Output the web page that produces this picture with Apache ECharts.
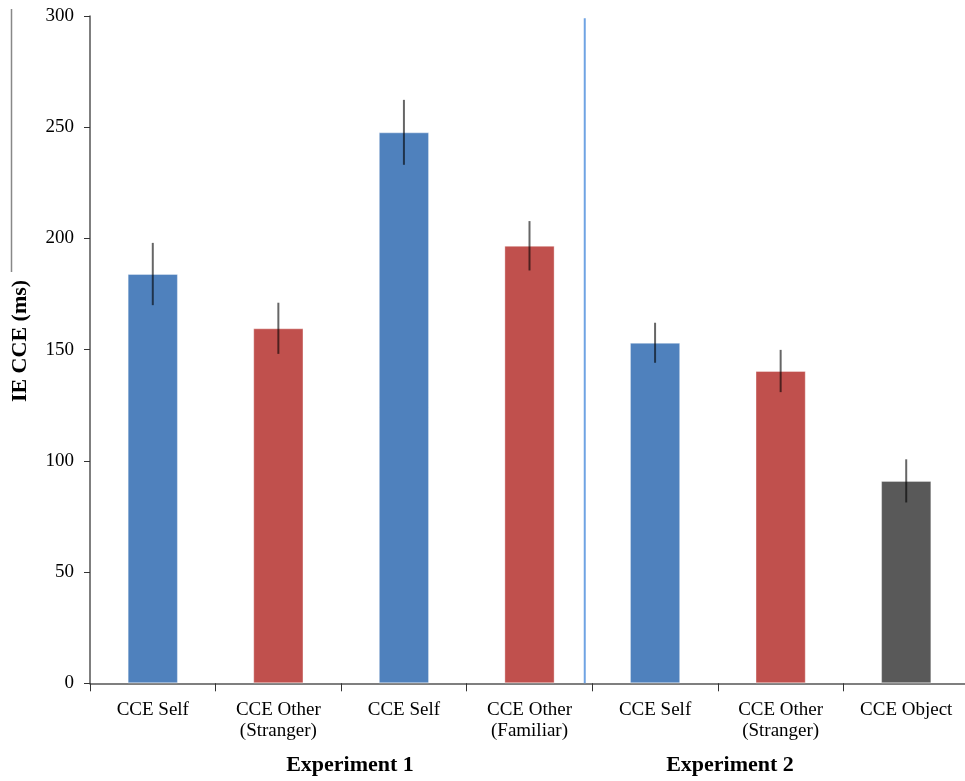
<!DOCTYPE html>
<html>
<head>
<meta charset="utf-8">
<script src="https://cdn.jsdelivr.net/npm/echarts@6/dist/echarts.min.js"></script>
<style>html,body{margin:0;padding:0;background:#fff}#main{width:965px;height:781px}</style>
</head>
<body>
<div id="main"></div>
<script>
var categories = ['CCE Self', 'CCE Other\n(Stranger)', 'CCE Self', 'CCE Other\n(Familiar)', 'CCE Self', 'CCE Other\n(Stranger)', 'CCE Object'];
var meanValues = [184, 159.6, 247.7, 196.7, 153.1, 140.4, 91.0];
var errorValues = [14, 11.5, 14.6, 11.1, 9, 9.5, 9.7];
var barColors = ['#4f81bd', '#c0504d', '#4f81bd', '#c0504d', '#4f81bd', '#c0504d', '#595959'];
var yTicks = [0, 50, 100, 150, 200, 250, 300];
var dividerX = 3.44;
var dividerTop = 299;
var groupLabels = ['Experiment 1', 'Experiment 2'];
var yAxisTitle = 'IE CCE (ms)';

var serif = '"Liberation Serif", "Times New Roman", serif';
var chart = echarts.init(document.getElementById('main'));

var barData = meanValues.map(function (v, i) {
  return { value: v, itemStyle: { color: barColors[i] } };
});
var errData = meanValues.map(function (v, i) {
  return [i, v - errorValues[i], v + errorValues[i]];
});

chart.setOption({
  animation: false,
  backgroundColor: '#fff',
  grid: { left: 90, top: 16, right: -4, bottom: 97.7, containLabel: false, outerBoundsMode: 'none' },
  title: [
    { text: groupLabels[0], left: 345, top: 749, textAlign: 'center',
      textStyle: { fontFamily: serif, fontWeight: 'bold', fontSize: 22, color: '#000' } },
    { text: groupLabels[1], left: 725, top: 749, textAlign: 'center',
      textStyle: { fontFamily: serif, fontWeight: 'bold', fontSize: 22, color: '#000' } }
  ],
  graphic: [
    { type: 'line', shape: { x1: 11.5, y1: 9, x2: 11.5, y2: 272 }, style: { stroke: '#888', lineWidth: 1.5 } },
    { type: 'text', x: 20, y: 341, rotation: Math.PI / 2,
      style: { text: yAxisTitle, fontFamily: serif, fontWeight: 'bold', fontSize: 22, fill: '#000',
               textAlign: 'center', textVerticalAlign: 'middle' } }
  ],
  xAxis: [
    {
      type: 'category',
      data: categories,
      axisLine: { lineStyle: { color: '#555', width: 1.5 } },
      axisTick: { show: true, length: 8, lineStyle: { color: '#333' } },
      axisLabel: { fontFamily: serif, fontSize: 19, color: '#000', margin: 16, lineHeight: 21, interval: 0 }
    },
    { type: 'value', min: -0.5, max: 6.5, show: false }
  ],
  yAxis: {
    type: 'value',
    min: yTicks[0],
    max: yTicks[yTicks.length - 1],
    interval: 50,
    axisLine: { show: true, onZero: false, lineStyle: { color: '#555', width: 1.5 } },
    axisTick: { show: true, length: 6, lineStyle: { color: '#333' } },
    axisLabel: { fontFamily: serif, fontSize: 19, color: '#000', margin: 16 },
    splitLine: { show: false }
  },
  series: [
    {
      type: 'bar',
      data: barData,
      barWidth: '40%',
      itemStyle: { borderColor: 'rgba(255,255,255,0.35)', borderWidth: 1 }
    },
    {
      type: 'custom',
      data: errData,
      z: 5,
      renderItem: function (params, api) {
        var lo = api.coord([api.value(0), api.value(1)]);
        var hi = api.coord([api.value(0), api.value(2)]);
        return {
          type: 'line',
          shape: { x1: lo[0], y1: lo[1], x2: hi[0], y2: hi[1] },
          style: { stroke: 'rgba(0,0,0,0.6)', lineWidth: 2 }
        };
      }
    },
    {
      type: 'line',
      xAxisIndex: 1,
      data: [[dividerX, 0], [dividerX, dividerTop]],
      symbol: 'none',
      z: 6,
      lineStyle: { color: '#6fa3e3', width: 2 }
    }
  ]
});
</script>
</body>
</html>
